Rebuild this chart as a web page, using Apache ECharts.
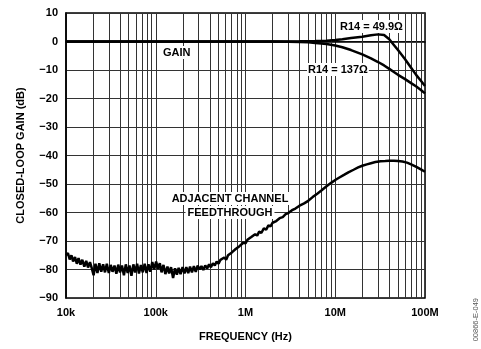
<!DOCTYPE html>
<html><head><meta charset="utf-8">
<script src="https://cdn.jsdelivr.net/npm/echarts@6/dist/echarts.min.js"></script>
<style>html,body{margin:0;padding:0;background:#fff}#c{width:481px;height:349px}</style>
</head><body><div id="c"></div>
<script>
// ---- data ----
const xTickLabels = {1e4:'10k',1e5:'100k',1e6:'1M',1e7:'10M',1e8:'100M'};
const gainFreq = [1e4,1e5,1e6,2e6,3e6,4e6,5e6,6e6,7e6,8e6,1e7,1.2e7,1.5e7,2e7,2.5e7,3e7,3.5e7,4e7,4.5e7,5e7,6e7,7e7,8e7,9e7,1e8];
const gain499 = [0,0,0,0,0,0.05,0.1,0.15,0.2,0.3,0.5,0.8,1.2,1.7,2.2,2.5,2.3,0.8,-1.2,-3.0,-6.2,-9.2,-11.8,-13.8,-15.6];
const gain137 = [0,0,0,0,-0.05,-0.15,-0.3,-0.5,-0.7,-0.9,-1.4,-2.0,-3.0,-4.5,-5.9,-7.2,-8.4,-9.6,-10.7,-11.7,-13.2,-14.6,-15.8,-17.0,-18.2];
const ftFreq = [1e4,1.05e4,1.1e4,1.15e4,1.2e4,1.26e4,1.32e4,1.38e4,1.45e4,1.52e4,1.6e4,1.68e4,1.76e4,1.85e4,1.94e4,2.03e4,2.13e4,2.24e4,2.35e4,2.47e4,2.59e4,2.72e4,2.85e4,3.0e4,3.15e4,3.3e4,3.47e4,3.64e4,3.82e4,4.0e4,4.2e4,4.42e4,4.64e4,4.87e4,5.1e4,5.36e4,5.63e4,5.9e4,6.2e4,6.5e4,6.83e4,7.17e4,7.53e4,7.9e4,8.3e4,8.7e4,9.15e4,9.6e4,1.01e5,1.06e5,1.11e5,1.16e5,1.22e5,1.28e5,1.35e5,1.41e5,1.48e5,1.56e5,1.64e5,1.72e5,1.8e5,1.89e5,1.99e5,2.09e5,2.19e5,2.3e5,2.41e5,2.53e5,2.66e5,2.79e5,2.93e5,3.08e5,3.23e5,3.39e5,3.56e5,3.74e5,3.93e5,4.12e5,4.33e5,4.55e5,4.77e5,5.01e5,5.26e5,5.52e5,5.8e5,6.09e5,6.39e5,6.71e5,7.05e5,7.4e5,7.77e5,8.16e5,8.57e5,9.0e5,9.45e5,1e6,1.05e6,1.1e6,1.16e6,1.22e6,1.28e6,1.35e6,1.42e6,1.5e6,1.6e6,1.7e6,1.8e6,1.9e6,2.0e6,2.2e6,2.4e6,2.6e6,2.8e6,3.0e6,3.3e6,3.6e6,4e6,4.5e6,5e6,5.6e6,6.3e6,7e6,8e6,9e6,1e7,1.1e7,1.25e7,1.4e7,1.6e7,1.8e7,2e7,2.25e7,2.5e7,2.8e7,3.2e7,3.6e7,4e7,4.5e7,5e7,5.6e7,6.3e7,7e7,8e7,9e7,1e8];
const ftVal = [-75.0,-74.2,-76.5,-75.0,-77.2,-75.6,-78.0,-76.0,-78.3,-76.6,
  -79.0,-77.0,-79.3,-77.4,-79.6,-82.0,-78.0,-81.2,-77.8,-80.8,
  -78.2,-81.0,-78.0,-81.2,-78.4,-80.8,-78.6,-81.5,-78.3,-81.0,
  -78.6,-82.0,-78.2,-81.2,-78.6,-82.2,-78.2,-81.0,-78.0,-81.4,
  -78.4,-81.0,-78.0,-81.2,-78.2,-80.8,-77.4,-80.0,-77.2,-79.8,
  -77.8,-81.0,-78.4,-81.6,-79.0,-81.4,-79.2,-83.0,-79.6,-81.8,
  -79.4,-81.6,-79.2,-81.4,-79.2,-81.3,-79.0,-81.0,-78.8,-80.8,
  -78.6,
  -80.0,-78.8,-80.2,-78.6,-79.6,-78.2,-79.2,-77.8,-78.6,-77.2,
  -78.0,-76.6,-77.3,-75.8,-76.6,-75.0,-75.6,-74.0,-74.6,-72.8,
  -73.4,-71.8,-72.2,-70.6,-70.8,
  -69.6,-70.0,-68.6,-69.0,-67.6,-68.1,-66.7,-67.2,-65.6,-66.0,-64.5,-64.9,-63.6,
  -63.0,-62.0,-61.6,-60.6,-60.2,-59.2,-58.6,-57.6,-56.8,-55.9,-54.6,-53.4,-52.3,-50.8,-49.6,-48.6,-47.8,-46.8,-45.9,-45.0,-44.2,-43.6,-43.1,-42.7,-42.3,-42.0,-41.9,-41.8,-41.8,-41.9,-42.1,-42.5,-43.1,-44.0,-44.9,-45.7];

// ---- chart ----
const FONT = '"Liberation Sans", Arial, sans-serif';
const pairs = (xs, ys) => xs.map((x, i) => [x, ys[i]]);
const minorLines = [];
[1e4,1e5,1e6,1e7].forEach(d => { for (let m = 2; m <= 9; m++) minorLines.push({xAxis: d * m}); });
const GRID = '#333';
const chart = echarts.init(document.getElementById('c'), null, {renderer: 'canvas'});
const curve = {type: 'line', showSymbol: false, symbol: 'none', z: 5, lineStyle: {color: '#000', width: 2.5}, silent: true};
const lbl = (text, extra) => Object.assign({type: 'text', z: 100, style: {text: text, font: 'bold 11px ' + FONT, fill: '#000', backgroundColor: '#fff', padding: [1, 1]}}, extra);
chart.setOption({
  animation: false,
  backgroundColor: '#fff',
  grid: {left: 66, right: 56, top: 13, bottom: 51, show: true, borderColor: '#000', borderWidth: 1.5, backgroundColor: 'transparent'},
  xAxis: {
    type: 'log', logBase: 10, min: 1e4, max: 1e8,
    name: 'FREQUENCY (Hz)', nameLocation: 'middle', nameGap: 33,
    nameTextStyle: {fontFamily: FONT, fontWeight: 'bold', fontSize: 11, color: '#000'},
    axisLine: {show: true, lineStyle: {color: '#000', width: 1.5}},
    axisTick: {show: false},
    axisLabel: {fontFamily: FONT, fontWeight: 'bold', fontSize: 11, color: '#000', margin: 9,
      formatter: v => xTickLabels[Math.round(v)] || ''},
    splitLine: {show: true, lineStyle: {color: GRID, width: 1}}
  },
  yAxis: {
    type: 'value', min: -90, max: 10, interval: 10,
    name: 'CLOSED-LOOP GAIN (dB)', nameLocation: 'middle', nameGap: 40, nameRotate: 90,
    nameTextStyle: {fontFamily: FONT, fontWeight: 'bold', fontSize: 11, color: '#000'},
    axisLine: {show: true, lineStyle: {color: '#000', width: 1.5}},
    axisTick: {show: false},
    axisLabel: {fontFamily: FONT, fontWeight: 'bold', fontSize: 11, color: '#000', margin: 8,
      formatter: v => (v < 0 ? '\u2212' + Math.abs(v) : String(v))},
    splitLine: {show: true, lineStyle: {color: GRID, width: 1}}
  },
  series: [
    {type: 'line', data: [[1e4, -90]], symbol: 'none', z: 1, silent: true, lineStyle: {width: 0},
     markLine: {silent: true, symbol: ['none','none'], label: {show: false},
       lineStyle: {color: GRID, width: 1, type: 'solid'}, data: minorLines, animation: false}},
    Object.assign({name: 'R14 = 49.9', data: pairs(gainFreq, gain499)}, curve),
    Object.assign({name: 'R14 = 137', data: pairs(gainFreq, gain137)}, curve),
    Object.assign({name: 'Feedthrough', data: pairs(ftFreq, ftVal)}, curve)
  ],
  graphic: [
    lbl('GAIN', {left: 162, top: 46}),
    lbl('R14 = 49.9\u03A9', {left: 339, top: 20}),
    lbl('R14 = 137\u03A9', {left: 307, top: 63}),
    lbl('ADJACENT CHANNEL', {x: 230, y: 192, style: {text: 'ADJACENT CHANNEL', font: 'bold 11px ' + FONT, fill: '#000', align: 'center', verticalAlign: 'top', backgroundColor: '#fff', padding: [1, 2]}}),
    lbl('FEEDTHROUGH', {x: 230, y: 206, style: {text: 'FEEDTHROUGH', font: 'bold 11px ' + FONT, fill: '#000', align: 'center', verticalAlign: 'top', backgroundColor: '#fff', padding: [1, 2]}}),
    {type: 'text', left: 472, top: 298, z: 100, rotation: Math.PI / 2, style: {text: '00866-E-049', font: '7.5px ' + FONT, fill: '#555'}}
  ]
});
</script></body></html>
